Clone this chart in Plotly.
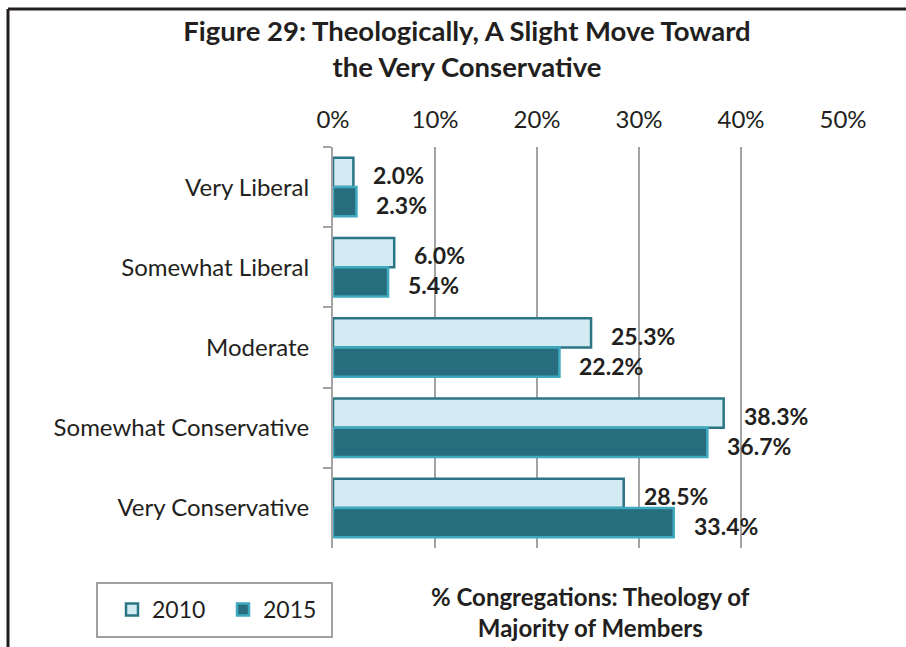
import plotly.graph_objects as go

categories = ["Very Liberal", "Somewhat Liberal", "Moderate", "Somewhat Conservative", "Very Conservative"]
series_names = ["2010", "2015"]
values_2010 = [2.0, 6.0, 25.3, 38.3, 28.5]
values_2015 = [2.3, 5.4, 22.2, 36.7, 33.4]
x_ticks = [0, 10, 20, 30, 40, 50]
x_tick_labels = ["0%", "10%", "20%", "30%", "40%", "50%"]

FONT = "Lato, 'Open Sans', sans-serif"
TXT = "#231f20"
GRID = "#a3a3a3"

fig = go.Figure()
fig.add_trace(go.Bar(
    name=series_names[0], y=categories, x=values_2010, orientation="h",
    marker=dict(color="#d3ebf2", line=dict(color="#2b7584", width=2.5)),
))
fig.add_trace(go.Bar(
    name=series_names[1], y=categories, x=values_2015, orientation="h",
    marker=dict(color="#276d7d", line=dict(color="#3fa9c0", width=2.5)),
))

annotations = []
for vals, ys in ((values_2010, 12), (values_2015, -18)):
    for c, v in zip(categories, vals):
        annotations.append(dict(
            x=v, y=c, xref="x", yref="y", text=f"<b>{v:.1f}%</b>",
            showarrow=False, xanchor="left", yanchor="middle",
            xshift=18, yshift=ys, font=dict(family=FONT, size=23, color=TXT),
        ))

annotations.append(dict(
    x=0.504, y=-0.16, xref="paper", yref="paper", showarrow=False,
    text="<b>% Congregations: Theology of<br>Majority of Members</b>",
    xanchor="center", yanchor="middle", align="center",
    font=dict(family=FONT, size=24, color=TXT),
))


def px_x(p):
    return (p - 333) / 510


def px_y(p):
    return (548 - p) / 401


fig.update_layout(
    width=906, height=647,
    margin=dict(l=333, r=63, t=147, b=99),
    paper_bgcolor="white", plot_bgcolor="white",
    barmode="group", bargap=0.27, bargroupgap=0,
    font=dict(family=FONT, color=TXT),
    title=dict(
        text="<b>Figure 29: Theologically, A Slight Move Toward<br>the Very Conservative</b>",
        x=467 / 906, xanchor="center", xref="container",
        y=1 - 41 / 647, yanchor="middle", yref="container",
        font=dict(family=FONT, size=27.5, color=TXT),
    ),
    xaxis=dict(
        side="top", range=[0, 50], tickvals=x_ticks, ticktext=x_tick_labels,
        showgrid=True, gridcolor=GRID, gridwidth=2, zeroline=False,
        showline=False, ticks="", ticklabelstandoff=13,
        tickfont=dict(family=FONT, size=24, color=TXT),
    ),
    yaxis=dict(
        categoryorder="array", categoryarray=categories, autorange="reversed",
        showline=True, linecolor=GRID, linewidth=2,
        ticks="outside", tickson="boundaries", ticklen=8, tickcolor=GRID, tickwidth=2,
        ticklabelstandoff=17, showgrid=False,
        tickfont=dict(family=FONT, size=24, color=TXT),
    ),
    legend=dict(
        orientation="h", x=px_x(112), y=px_y(588),
        xanchor="left", yanchor="top",
        borderwidth=0, bgcolor="rgba(0,0,0,0)",
        font=dict(family=FONT, size=23, color=TXT),
        itemwidth=30, entrywidth=66, entrywidthmode="pixels",
    ),
    annotations=annotations,
    shapes=[
        dict(type="line", xref="paper", yref="paper",
             x0=px_x(8), x1=px_x(910), y0=px_y(9), y1=px_y(9),
             line=dict(color="#231f20", width=3)),
        dict(type="line", xref="paper", yref="paper",
             x0=px_x(8), x1=px_x(8), y0=px_y(9), y1=px_y(660),
             line=dict(color="#231f20", width=3)),
        dict(type="rect", xref="paper", yref="paper",
             x0=px_x(97), x1=px_x(332), y0=px_y(583), y1=px_y(637),
             line=dict(color="#a0a0a0", width=2), fillcolor="rgba(0,0,0,0)"),
    ],
)

fig.write_html("out.html", post_script="document.body.style.margin='0';",
               config={"displayModeBar": False})
